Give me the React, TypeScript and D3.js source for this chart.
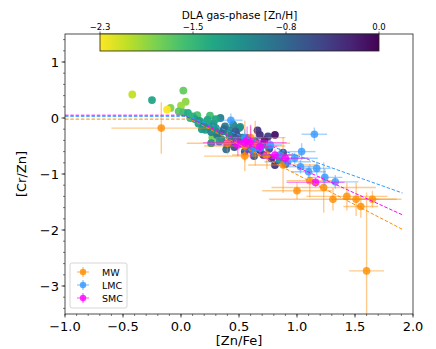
import React from "react";
import * as d3 from "d3";

// DLA sample: [Zn/Fe], [Cr/Zn], gas-phase [Zn/H]
const dlaZnFe = [-0.42, -0.25, 0.02, 0.04, 0.0, -0.09, -0.12, -0.02, 0.02, 0.06, 0.14, 0.19, 0.25, 0.34, 0.21, 0.27, 0.26, 0.36, 0.42, 0.51, 0.61, 0.1, 0.12, 0.16, 0.22, 0.28, 0.3, 0.32, 0.38, 0.42, 0.44, 0.48, 0.5, 0.51, 0.57, 0.68, 0.75, 0.81, 0.61, 0.68, 0.71, 0.81, 0.85, 0.4, 0.46, 0.53, 0.55, 0.64, 0.7, 0.76, 0.78, 0.88, 0.9, 0.35, 0.24, 0.18, 0.08, 0.3, 0.45, 0.63, 0.72, 0.66, 0.33, 0.39, 0.58, 0.15, 0.2, 0.26, 0.31, 0.37, 0.41, 0.47, 0.53, 0.23, 0.29];
const dlaCrZn = [0.42, 0.32, 0.49, 0.29, 0.22, 0.18, 0.15, 0.12, 0.1, 0.09, 0.05, -0.11, 0.04, 0.0, -0.21, -0.35, -0.45, -0.24, -0.33, -0.39, -0.54, 0.03, -0.02, -0.05, -0.06, -0.1, -0.18, -0.28, -0.15, -0.22, -0.4, -0.3, -0.18, -0.16, -0.36, -0.3, -0.33, -0.3, -0.57, -0.57, -0.66, -0.84, -0.75, -0.48, -0.52, -0.46, -0.6, -0.42, -0.48, -0.55, -0.72, -0.62, -0.82, -0.38, -0.16, -0.2, 0.0, -0.02, -0.12, -0.68, -0.4, -0.22, -0.42, -0.56, -0.5, -0.1, -0.15, -0.25, -0.3, -0.2, -0.27, -0.24, -0.35, -0.03, -0.22];
const dlaZnH = [-2.1, -1.35, -1.75, -1.9, -1.95, -1.85, -2.3, -1.7, -1.6, -1.4, -1.65, -0.25, -1.6, -1.0, -1.3, -1.8, -1.2, -0.9, -0.8, -0.7, -0.4, -1.45, -1.3, -1.2, -1.5, -1.1, -1.25, -1.0, -0.95, -1.1, -0.85, -0.6, -1.0, -1.15, -0.4, -0.3, -0.45, -0.1, -0.85, -0.25, -0.45, -0.35, -1.1, -0.75, -0.55, -0.9, -0.5, -0.6, -0.7, -0.5, -0.3, -0.55, -0.45, -1.05, -1.15, -1.25, -1.5, -1.35, -1.05, -0.6, -0.2, -0.35, -1.3, -0.8, -0.95, -1.3, -1.2, -1.0, -0.9, -0.75, -1.05, -0.65, -0.85, -1.4, -1.15];

// Milky Way / LMC / SMC sightlines: x, y, xerr, yerr
const mwX = [-0.17, 1.6, 1.43, 1.31, 1.51, 1.55, 1.65, 1.23, 1.11, 0.88, 0.64, 0.74, 0.55, 0.6, 0.4, 0.55, 1.0];
const mwY = [-0.18, -2.73, -1.4, -1.45, -1.45, -1.58, -1.45, -1.24, -1.12, -0.84, -0.45, -0.66, -0.5, -0.35, -0.45, -0.68, -1.3];
const mwXErr = [0.43, 0.15, 0.35, 0.55, 0.2, 0.15, 0.25, 0.45, 0.2, 0.3, 0.3, 0.3, 0.35, 0.3, 0.35, 0.35, 0.3];
const mwYErr = [0.46, 1.4, 0.25, 0.2, 0.3, 0.2, 0.15, 0.45, 0.3, 0.5, 0.4, 0.25, 0.45, 0.2, 0.2, 0.1, 0.15];

const lmcX = [0.43, 1.15, 1.04, 0.98, 1.03, 1.1, 1.17, 1.24, 1.33, 0.77, 0.85, 0.68, 0.55, 0.92, 0.62];
const lmcY = [-0.04, -0.29, -0.6, -0.72, -0.87, -0.96, -0.9, -1.06, -1.14, -0.48, -0.66, -0.54, -0.35, -0.78, -0.58];
const lmcXErr = [0.1, 0.11, 0.12, 0.2, 0.12, 0.15, 0.12, 0.15, 0.2, 0.1, 0.15, 0.12, 0.15, 0.2, 0.1];
const lmcYErr = [0.12, 0.12, 0.15, 0.1, 0.12, 0.1, 0.12, 0.15, 0.12, 0.1, 0.12, 0.1, 0.15, 0.1, 0.12];

const smcX = [0.57, 0.49, 0.68, 0.81, 0.9, 1.16, 0.55, 0.6];
const smcY = [-0.4, -0.48, -0.51, -0.66, -0.72, -1.15, -0.44, -0.42];
const smcXErr = [0.2, 0.25, 0.15, 0.15, 0.2, 0.25, 0.36, 0.15];
const smcYErr = [0.25, 0.2, 0.15, 0.1, 0.1, 0.08, 0.1, 0.3];

// piecewise depletion fits
const mwFitX = [-1.0, 0.08, 1.91];
const mwFitY = [-0.02, -0.02, -1.99];
const lmcFitX = [-1.0, 0.05, 1.91];
const lmcFitY = [0.03, 0.03, -1.34];
const smcFitX = [-1.0, 0.02, 1.91];
const smcFitY = [0.05, 0.05, -1.73];

const xTicks = [-1.0, -0.5, 0.0, 0.5, 1.0, 1.5, 2.0];
const yTicks = [1, 0, -1, -2, -3];
const cbarTicks = [-2.3, -1.5, -0.8, 0.0];

const W = 436, H = 349;
const margin = { top: 34, right: 23, bottom: 35, left: 65 };

export default function App() {
  const x = d3.scaleLinear().domain([-1, 2]).range([margin.left, W - margin.right]);
  const y = d3.scaleLinear().domain([-3.5, 1.5]).range([H - margin.bottom, margin.top]);
  const zColor = (v: number) => d3.interpolateViridis(-v / 2.3);

  const cbX = d3.scaleLinear().domain([-2.3, 0]).range([100, 379]);
  const cbTop = margin.top, cbH = 17;
  const cbPos = d3.scaleLinear().domain([0, cbarTicks.length - 1]).range([100, 379]);

  const xMinor = d3.range(-10, 21).map((i) => i / 10);
  const yMinor = d3.range(-17, 8).map((i) => i / 5);
  const line = d3.line<number[]>().x((d) => x(d[0])).y((d) => y(d[1]));
  const font = "DejaVu Sans, sans-serif";

  const groups = [
    { name: "MW", color: "#ff8c00", xs: mwX, ys: mwY, xe: mwXErr, ye: mwYErr, fx: mwFitX, fy: mwFitY },
    { name: "LMC", color: "#3399ff", xs: lmcX, ys: lmcY, xe: lmcXErr, ye: lmcYErr, fx: lmcFitX, fy: lmcFitY },
    { name: "SMC", color: "#ff00ff", xs: smcX, ys: smcY, xe: smcXErr, ye: smcYErr, fx: smcFitX, fy: smcFitY },
  ];

  const stops = d3.range(0, 11).map((i) => i / 10);

  return (
    <svg width={W} height={H} style={{ position: "absolute", left: 0, top: 0 }} fontFamily={font}>
      <defs>
        <clipPath id="plot">
          <rect x={margin.left} y={margin.top} width={W - margin.left - margin.right} height={H - margin.top - margin.bottom} />
        </clipPath>
        <linearGradient id="cbar" x1="0%" x2="100%" y1="0%" y2="0%">
          {stops.map((t) => (
            <stop key={t} offset={`${t * 100}%`} stopColor={d3.interpolateViridis(1 - t)} />
          ))}
        </linearGradient>
      </defs>
      <rect width={W} height={H} fill="white" />

      <g clipPath="url(#plot)">
        {dlaZnFe.map((v, i) => (
          <circle key={"d" + i} cx={x(v)} cy={y(dlaCrZn[i])} r={3.9} fill={zColor(dlaZnH[i])} opacity={0.95} />
        ))}
        {groups.map((g) => (
          <g key={g.name}>
            {g.xs.map((v, i) => (
              <g key={i} stroke={g.color} strokeOpacity={0.45} strokeWidth={1.4}>
                <line x1={x(v - g.xe[i])} x2={x(v + g.xe[i])} y1={y(g.ys[i])} y2={y(g.ys[i])} />
                <line x1={x(v)} x2={x(v)} y1={y(g.ys[i] - g.ye[i])} y2={y(g.ys[i] + g.ye[i])} />
              </g>
            ))}
            {g.xs.map((v, i) => (
              <circle key={"p" + i} cx={x(v)} cy={y(g.ys[i])} r={3.8} fill={g.color} opacity={0.8} />
            ))}
          </g>
        ))}
        {groups.map((g) => (
          <path
            key={"f" + g.name}
            d={line(g.fx.map((v, i) => [v, g.fy[i]])) || ""}
            fill="none"
            stroke={g.color}
            strokeWidth={1}
            strokeDasharray="3.5,1.8"
          />
        ))}
      </g>

      {/* frame */}
      <rect x={margin.left} y={margin.top} width={W - margin.left - margin.right} height={H - margin.top - margin.bottom} fill="none" stroke="#222" strokeWidth={0.8} />

      {/* x axis */}
      {xMinor.map((t) => (
        <line key={"xm" + t} x1={x(t)} x2={x(t)} y1={H - margin.bottom} y2={H - margin.bottom + 2} stroke="#222" strokeWidth={0.6} />
      ))}
      {xTicks.map((t) => (
        <g key={"x" + t}>
          <line x1={x(t)} x2={x(t)} y1={H - margin.bottom} y2={H - margin.bottom + 3.5} stroke="#222" strokeWidth={0.8} />
          <text x={x(t)} y={H - margin.bottom + 17} textAnchor="middle" fontSize={13} fill="#000">
            {d3.format(".1f")(t).replace("-", "\u2212")}
          </text>
        </g>
      ))}
      <text x={(margin.left + W - margin.right) / 2} y={H - 4} textAnchor="middle" fontSize={13}>[Zn/Fe]</text>

      {/* y axis */}
      {yMinor.map((t) => (
        <line key={"ym" + t} x1={margin.left - 2} x2={margin.left} y1={y(t)} y2={y(t)} stroke="#222" strokeWidth={0.6} />
      ))}
      {yTicks.map((t) => (
        <g key={"y" + t}>
          <line x1={margin.left - 3.5} x2={margin.left} y1={y(t)} y2={y(t)} stroke="#222" strokeWidth={0.8} />
          <text x={margin.left - 6} y={y(t) + 4.5} textAnchor="end" fontSize={13}>
            {String(t).replace("-", "\u2212")}
          </text>
        </g>
      ))}
      <text transform={`translate(26,${(margin.top + H - margin.bottom) / 2}) rotate(-90)`} textAnchor="middle" fontSize={13}>[Cr/Zn]</text>

      {/* colorbar */}
      <rect x={cbX(-2.3)} y={cbTop} width={cbX(0) - cbX(-2.3)} height={cbH} fill="url(#cbar)" stroke="#222" strokeWidth={0.8} />
      {cbarTicks.map((t, i) => (
        <g key={"c" + i}>
          <line x1={cbPos(i)} x2={cbPos(i)} y1={cbTop} y2={cbTop - 2.5} stroke="#222" strokeWidth={0.7} />
          <text x={cbPos(i)} y={cbTop - 4.5} textAnchor="middle" fontSize={8.5}>{d3.format(".1f")(t)}</text>
        </g>
      ))}
      <text x={(cbX(-2.3) + cbX(0)) / 2} y={19} textAnchor="middle" fontSize={10.5}>DLA gas-phase [Zn/H]</text>

      {/* legend */}
      <rect x={70} y={263} width={57} height={45} rx={2} fill="white" fillOpacity={0.85} stroke="#ccc" strokeWidth={0.8} />
      {groups.map((g, i) => (
        <g key={"l" + g.name} transform={`translate(83,${272 + i * 13})`}>
          <g stroke={g.color} strokeOpacity={0.5} strokeWidth={1.4}>
            <line x1={-6} x2={6} y1={0} y2={0} />
            <line x1={0} x2={0} y1={-5} y2={5} />
          </g>
          <circle r={3.2} fill={g.color} opacity={0.8} />
          <text x={19} y={3.5} fontSize={9.5}>{g.name}</text>
        </g>
      ))}
    </svg>
  );
}
